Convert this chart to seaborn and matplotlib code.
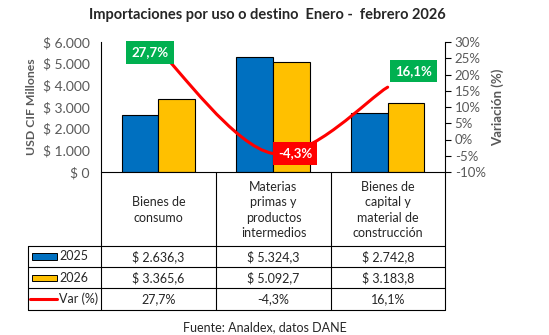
import numpy as np
import pandas as pd
import matplotlib
matplotlib.use("Agg")
import matplotlib.pyplot as plt
from matplotlib.path import Path
from matplotlib.patches import PathPatch, Rectangle
from matplotlib.lines import Line2D
import seaborn as sns

# ---- data ----
categories = ["Bienes de\nconsumo", "Materias\nprimas y\nproductos\nintermedios",
              "Bienes de\ncapital y\nmaterial de\nconstrucción"]
series_names = ["2025", "2026"]
values_2025 = [2636.3, 5324.3, 2742.8]
values_2026 = [3365.6, 5092.7, 3183.8]
var_pct = [27.7, -4.3, 16.1]
left_ticks = [0, 1000, 2000, 3000, 4000, 5000, 6000]
right_ticks = [-10, -5, 0, 5, 10, 15, 20, 25, 30]
title = "Importaciones por uso o destino  Enero -  febrero 2026"
source = "Fuente: Analdex, datos DANE"

BLUE = "#0070C0"
YELLOW = "#FFC000"
RED = "#FF0000"
GREEN = "#00B050"
GREY = "#595959"

sns.set_style("white")
plt.rcParams["font.family"] = ["Lato", "DejaVu Sans"]

W, H = 549, 335
fig = plt.figure(figsize=(W / 100, H / 100), dpi=100)

def fx(px):
    return px / W

def fy(py):
    return 1 - py / H

ax_l, ax_r, ax_t, ax_b = 101, 445, 42, 172
ax = fig.add_axes([fx(ax_l), fy(ax_b), fx(ax_r - ax_l), (ax_b - ax_t) / H])

df = pd.DataFrame({
    "cat": categories * 2,
    "year": [series_names[0]] * 3 + [series_names[1]] * 3,
    "val": values_2025 + values_2026,
})
sns.barplot(data=df, x="cat", y="val", hue="year", order=categories,
            palette=[BLUE, YELLOW], width=0.64, edgecolor="black",
            linewidth=0.8, ax=ax, legend=False, saturation=1)

ax.set_xlim(-0.5, 2.5)
ax.set_ylim(0, 6000)
ax.set_yticks(left_ticks)
ax.set_yticklabels([("$ {:,.0f}".format(v)).replace(",", ".") for v in left_ticks])
ax.tick_params(axis="y", length=0, pad=8, labelsize=10, labelcolor=GREY)
ax.set_xticks([])
ax.set_xlabel("")
ax.set_ylabel("USD CIF Millones", fontsize=8.8, fontweight="bold", color=GREY, labelpad=4)
for s in ["top", "right", "bottom"]:
    ax.spines[s].set_visible(False)
ax.spines["left"].set_color("black")
ax.spines["left"].set_linewidth(0.8)

ax2 = ax.twinx()
ax2.set_ylim(-10, 30)
ax2.set_yticks(right_ticks)
ax2.set_yticklabels(["{:.0f}%".format(v) for v in right_ticks])
ax2.tick_params(axis="y", length=4, width=0.8, pad=3, labelsize=9.5, labelcolor=GREY, color="black")
ax2.set_ylabel("Variación (%)", fontsize=9.5, fontweight="bold", color=GREY, labelpad=4)
for s in ["top", "left", "bottom"]:
    ax2.spines[s].set_visible(False)
ax2.spines["right"].set_color("black")
ax2.spines["right"].set_linewidth(0.8)

# smoothed line (Excel-like Catmull-Rom Bezier) through the variation points
xs = np.arange(len(var_pct), dtype=float)
pts = np.column_stack([xs, np.array(var_pct, dtype=float)])
verts = [tuple(pts[0])]
codes = [Path.MOVETO]
n = len(pts)
for i in range(n - 1):
    p_prev = pts[i - 1] if i > 0 else pts[i]
    p_next2 = pts[i + 2] if i + 2 < n else pts[i + 1]
    c1 = pts[i] + (pts[i + 1] - p_prev) / 6.0
    c2 = pts[i + 1] - (p_next2 - pts[i]) / 6.0
    verts += [tuple(c1), tuple(c2), tuple(pts[i + 1])]
    codes += [Path.CURVE4] * 3
ax2.add_patch(PathPatch(Path(verts, codes), facecolor="none", edgecolor=RED, lw=2.2,
                        capstyle="round", zorder=3))

# data labels
offsets = [(-8, -3), (22, 0), (26, 16)]
box_colors = [GREEN, RED, GREEN]
for i, v in enumerate(var_pct):
    ax2.annotate(("{:.1f}%".format(v)).replace(".", ","), xy=(i, v),
                 xytext=offsets[i], textcoords="offset pixels",
                 ha="center", va="center", fontsize=9.5, fontweight="bold", color="white",
                 bbox=dict(boxstyle="square,pad=0.4", fc=box_colors[i], ec="none"),
                 zorder=5)

# title and source
fig.text(fx(267), fy(15), title, ha="center", va="center", fontsize=10.5, fontweight="bold")
fig.text(fx(265), fy(327), source, ha="center", va="center", fontsize=9)

# ---- data table ----
col_x = [101, 216, 331, 445]
leg_x = 28
row_y = [172, 245.7, 267.3, 288.3, 310]
lw = 0.8

def hline(x0, x1, y):
    fig.add_artist(Line2D([fx(x0), fx(x1)], [fy(y), fy(y)], color="black", lw=lw))

def vline(x, y0, y1):
    fig.add_artist(Line2D([fx(x), fx(x)], [fy(y0), fy(y1)], color="black", lw=lw))

hline(col_x[0], col_x[-1], row_y[0])
for y in row_y[1:]:
    hline(leg_x, col_x[-1], y)
for x in col_x:
    vline(x, row_y[0], row_y[-1])
vline(leg_x, row_y[1], row_y[-1])

def fmt_money(v):
    s = "{:,.1f}".format(v)
    s = s.replace(",", "X").replace(".", ",").replace("X", ".")
    return "$ " + s

rows = [
    [fmt_money(v) for v in values_2025],
    [fmt_money(v) for v in values_2026],
    [("{:.1f}%".format(v)).replace(".", ",") for v in var_pct],
]
for j, cat in enumerate(categories):
    cx = (col_x[j] + col_x[j + 1]) / 2
    fig.text(fx(cx), fy((row_y[0] + row_y[1]) / 2 + 1), cat, ha="center", va="center",
             fontsize=9, linespacing=1.35)
    for r in range(3):
        cy = (row_y[r + 1] + row_y[r + 2]) / 2
        fig.text(fx(cx), fy(cy), rows[r][j], ha="center", va="center", fontsize=9)

# legend keys in table
key_x0, key_x1 = 32, 57
for r, col in enumerate([BLUE, YELLOW]):
    cy = (row_y[r + 1] + row_y[r + 2]) / 2
    fig.add_artist(Rectangle((fx(key_x0), fy(cy + 3.3)), fx(key_x1 - key_x0), 6.6 / H,
                             transform=fig.transFigure, fc=col, ec="black", lw=0.7))
    fig.text(fx(key_x1 + 2), fy(cy), series_names[r], ha="left", va="center", fontsize=9)
cy = (row_y[3] + row_y[4]) / 2
fig.add_artist(Line2D([fx(key_x0 - 2), fx(key_x1)], [fy(cy), fy(cy)], color=RED, lw=2.2))
fig.text(fx(key_x1 + 2), fy(cy), "Var (%)", ha="left", va="center", fontsize=9)

fig.savefig("out.png", dpi=100)
